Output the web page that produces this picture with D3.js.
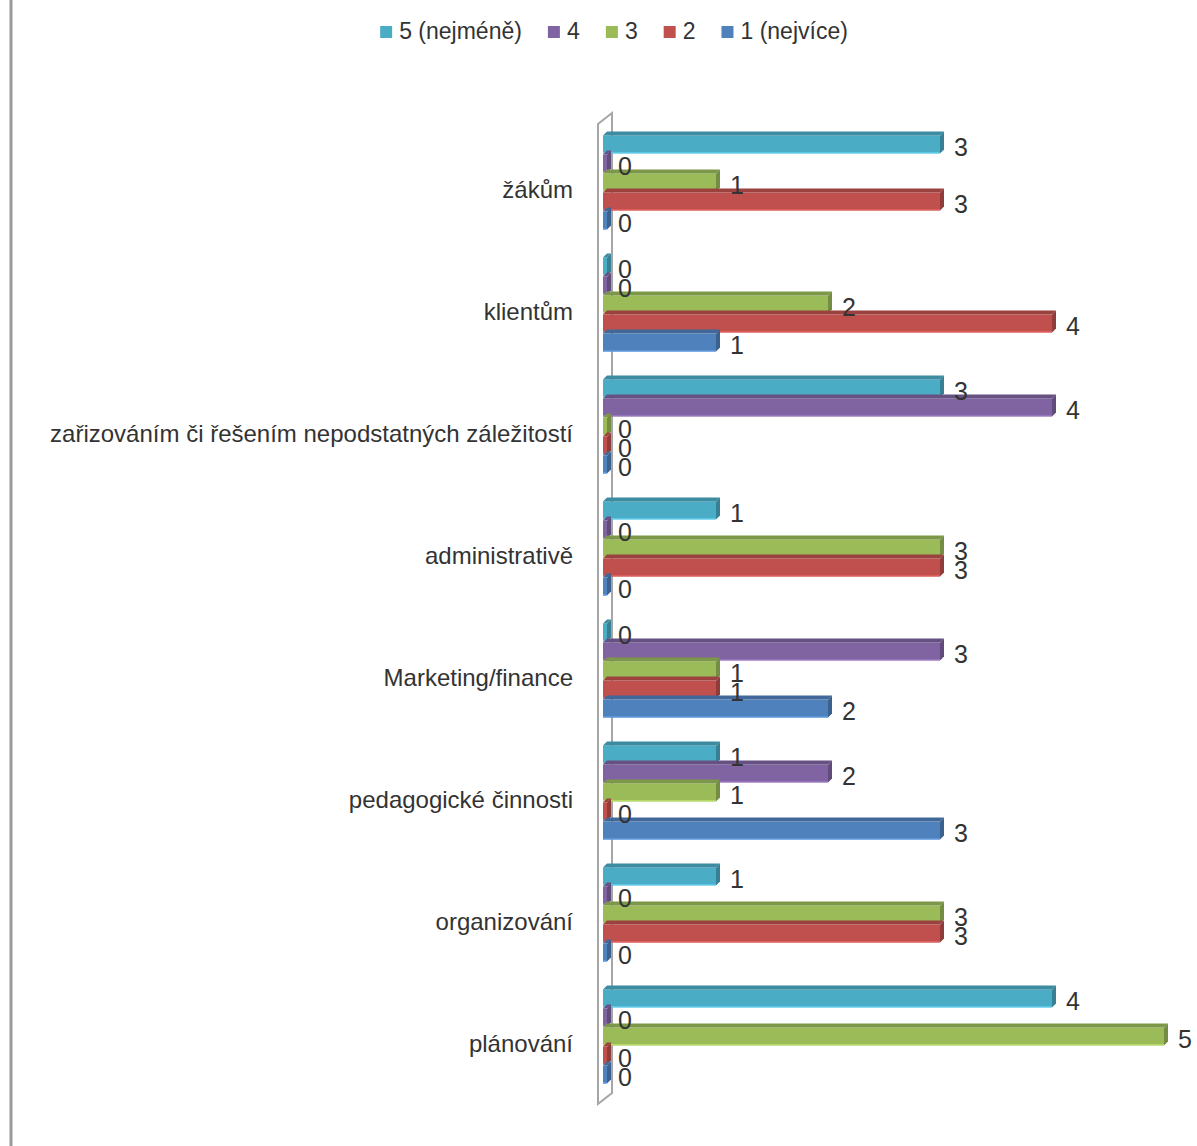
<!DOCTYPE html>
<html>
<head>
<meta charset="utf-8">
<script src="https://cdn.jsdelivr.net/npm/d3@7"></script>
<style>
  html, body { margin: 0; padding: 0; background: #fff; }
  svg { display: block; }
  text { font-family: "Liberation Sans", Arial, sans-serif; fill: #333; }
</style>
</head>
<body>
<svg id="chart" width="1197" height="1146"></svg>
<script>
// Categories, top to bottom
const categories = [
  "žákům",
  "klientům",
  "zařizováním či řešením nepodstatných záležitostí",
  "administrativě",
  "Marketing/finance",
  "pedagogické činnosti",
  "organizování",
  "plánování"
];

// Series, in the order they appear inside each group (top to bottom)
const seriesNames = ["5 (nejméně)", "4", "3", "2", "1 (nejvíce)"];
const seriesColors = ["#4BACC6", "#8064A2", "#9BBB59", "#C0504D", "#4F81BD"];

// Counts per category for each series
const values5 = [3, 0, 3, 1, 0, 1, 1, 4];
const values4 = [0, 0, 4, 0, 3, 2, 0, 0];
const values3 = [1, 2, 0, 3, 1, 1, 3, 5];
const values2 = [3, 4, 0, 3, 1, 0, 3, 0];
const values1 = [0, 1, 0, 0, 2, 3, 0, 0];
const seriesValues = [values5, values4, values3, values2, values1];

const svg = d3.select("#chart");

// Outer chart frame (left edge visible)
svg.append("line")
  .attr("x1", 11).attr("x2", 11).attr("y1", 0).attr("y2", 1146)
  .attr("stroke", "#9a9a9a").attr("stroke-width", 3);

// Scales
const x = d3.scaleLinear().domain([0, 5]).range([604, 1164]);
const y = d3.scaleBand().domain(categories).range([120, 1096])
  .paddingInner(0.22).paddingOuter(0.11);
const ySub = d3.scaleBand().domain(d3.range(seriesNames.length))
  .range([0, y.bandwidth()]);

const depth = 4;

// 3D side wall of the plot
const wall = svg.append("g").attr("fill", "none").attr("stroke", "#a6a6a6").attr("stroke-width", 2);
wall.append("path").attr("d", `M598,1104 L598,124 L612,113 L612,1093 Z`);

// Bars with a darker top face and end face
const shade = (c, k) => d3.color(c).darker(k).formatHex();
const barsG = svg.append("g");
seriesNames.forEach((name, si) => {
  const color = seriesColors[si];
  categories.forEach((cat, ci) => {
    const v = seriesValues[si][ci];
    const x0 = x(0) - 1;
    const x1 = Math.max(x(v), x0 + 4);
    const y0 = y(cat) + ySub(si) + 2;
    const h = ySub.bandwidth() - 1;
    const g = barsG.append("g");
    g.append("rect").attr("x", x0).attr("y", y0).attr("width", x1 - x0).attr("height", h)
      .attr("fill", color);
    // light edge along the bottom
    g.append("rect").attr("x", x0).attr("y", y0 + h - 1.5).attr("width", x1 - x0).attr("height", 1.5)
      .attr("fill", d3.color(color).brighter(0.6).formatHex()).attr("opacity", 0.7);
    g.append("path")
      .attr("d", `M${x0},${y0} L${x0 + depth},${y0 - depth} L${x1 + depth},${y0 - depth} L${x1},${y0} Z`)
      .attr("fill", shade(color, 0.6));
    g.append("path")
      .attr("d", `M${x1},${y0} L${x1 + depth},${y0 - depth} L${x1 + depth},${y0 + h - depth} L${x1},${y0 + h} Z`)
      .attr("fill", shade(color, 0.8));
  });
});

// Value labels
const labelsG = svg.append("g");
seriesNames.forEach((name, si) => {
  categories.forEach((cat, ci) => {
    const v = seriesValues[si][ci];
    labelsG.append("text")
      .attr("x", x(v) + 14)
      .attr("y", y(cat) + ySub(si) + ySub.bandwidth() / 2 + 6)
      .attr("dominant-baseline", "middle")
      .attr("font-size", 25)
      .text(v);
  });
});

// Category axis labels
const yAxis = d3.axisLeft(y).tickSize(0).tickPadding(0);
const axisG = svg.append("g").attr("transform", "translate(573,9)").call(yAxis);
axisG.select(".domain").remove();
axisG.selectAll("text")
  .attr("font-size", 24)
  .style("font-family", "'Liberation Sans', Arial, sans-serif")
  .attr("fill", "#333");

// Legend
const legend = svg.append("g");
const items = legend.selectAll("g").data(seriesNames).enter().append("g");
items.append("rect").attr("width", 12).attr("height", 12).attr("y", 26)
  .attr("fill", (d, i) => seriesColors[i]);
items.append("text").attr("x", 19).attr("y", 33).attr("dominant-baseline", "middle")
  .attr("font-size", 23).text(d => d);
let cx = 0;
const gap = 26;
items.each(function() {
  const w = this.getBBox().width;
  d3.select(this).attr("transform", `translate(${cx},0)`);
  cx += w + gap;
});
const total = cx - gap;
legend.attr("transform", `translate(${614 - total / 2},0)`);
</script>
</body>
</html>
